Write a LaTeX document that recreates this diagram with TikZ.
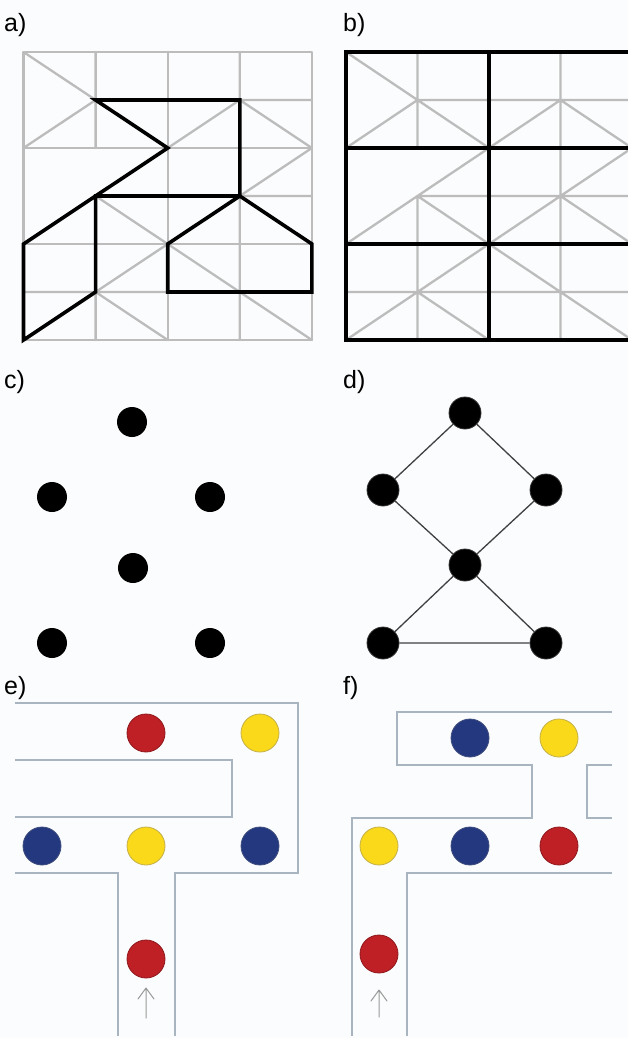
\documentclass[tikz,border=0pt]{standalone}
\usepackage{fontspec}
\setmainfont{Liberation Sans}
\definecolor{bg}{RGB}{251,252,253}
\definecolor{gridgray}{RGB}{188,188,188}
\definecolor{maze}{RGB}{168,180,192}
\definecolor{dred}{RGB}{190,32,38}
\definecolor{dyellow}{RGB}{250,216,26}
\definecolor{dblue}{RGB}{35,56,126}
\tikzset{
  lbl/.style={anchor=base west, inner sep=0pt, font=\fontsize{25}{28}\selectfont},
  gl/.style={draw=gridgray, line width=2.3pt, line cap=round, line join=round},
  bl/.style={draw=black, line width=3.6pt},
  dot/.style={circle, fill=black, inner sep=0pt, minimum size=30pt},
  ddot/.style={circle, fill=black, draw=black!80, line width=0.8pt, inner sep=0pt, minimum size=32pt},
  gedge/.style={draw=black!75, line width=1.3pt},
  wall/.style={draw=maze, line width=1.5pt},
  ball/.style={circle, inner sep=0pt, minimum size=38pt, line width=0.8pt},
  redball/.style={ball, fill=dred, draw=dred!75!black},
  yelball/.style={ball, fill=dyellow, draw=dyellow!55!gray},
  bluball/.style={ball, fill=dblue, draw=dblue!70!gray},
  uparrow/.style={draw=black!40, line width=1pt, line cap=round, line join=round}
}
\newcommand{\graypat}{%
  \draw[gl] (1,0)--(1,2) (1,3)--(1,6) (3,0)--(3,6)
    (1,1)--(4,1) (1,3)--(4,3) (0,5)--(4,5)
    (0,0)--(1,1)--(0,2) (1,1)--(2,2) (2,2)--(3,1)--(4,2)
    (2,2)--(0,4) (1,3)--(2,4) (2,4)--(4,2) (3,3)--(4,4)
    (0,6)--(2,4) (1,5)--(2,6) (2,4)--(4,6);}
\begin{document}
\begin{tikzpicture}[x=1pt, y=-1pt]
\fill[bg] (0,0) rectangle (628,1038);
\useasboundingbox (0,0) rectangle (628,1038);

% labels
\node[lbl] (la) at (4,32) {a)};
\node[lbl] (lb) at (343,32) {b)};
\node[lbl] (lc) at (4,388) {c)};
\node[lbl] (ld) at (343,388) {d)};
\node[lbl] (le) at (4,694) {e)};
\node[lbl] (lf) at (343,694) {f)};

% panel a
\begin{scope}[shift={(23.5,52)}, x=72.1pt, y=-48pt]
  \draw[gl] (0,0) rectangle (4,6) (2,0)--(2,6) (0,2)--(4,2) (0,4)--(4,4);
  \graypat
  \draw[bl] (1,3)--(3,3)--(3,1)--(1,1)--(2,2)--(0,4)--(0,6)--(1,5)--cycle;
  \draw[bl] (3,3)--(2,4)--(2,5)--(4,5)--(4,4)--cycle;
\end{scope}

% panel b
\begin{scope}
  \clip (0,0) rectangle (628,1038);
  \begin{scope}[shift={(346,52)}, x=71.5pt, y=-48pt]
    \graypat
    \draw[bl] (0,0) rectangle (4,6) (2,0)--(2,6) (0,2)--(4,2) (0,4)--(4,4);
  \end{scope}
\end{scope}

% panel c
\node[dot] (c1) at (132,422) {};
\node[dot] (c2) at (52,497) {};
\node[dot] (c3) at (210,497) {};
\node[dot] (c4) at (133,568) {};
\node[dot] (c5) at (52,643) {};
\node[dot] (c6) at (210,643) {};

% panel d
\node[ddot] (d1) at (465,413) {};
\node[ddot] (d2) at (383,490) {};
\node[ddot] (d3) at (546,490) {};
\node[ddot] (d4) at (465,565) {};
\node[ddot] (d5) at (383,643) {};
\node[ddot] (d6) at (546,643) {};
\draw[gedge] (d1)--(d2) (d1)--(d3) (d2)--(d4) (d3)--(d4) (d4)--(d5) (d4)--(d6) (d5)--(d6);

% panel e
\draw[wall] (15,703)--(298,703)--(298,873)--(175,873)--(175,1036);
\draw[wall] (15,760)--(232,760)--(232,817)--(15,817);
\draw[wall] (15,873)--(118,873)--(118,1036);
\node[redball] (e1) at (146,733) {};
\node[yelball] (e2) at (260,733) {};
\node[bluball] (e3) at (42,846) {};
\node[yelball] (e4) at (146,846) {};
\node[bluball] (e5) at (260,846) {};
\node[redball] (e6) at (146,959) {};
\draw[uparrow] (146,1018)--(146,988) (138,999)--(146,988)--(154,999);

% panel f
\draw[wall] (612,712)--(397,712)--(397,765)--(532,765)--(532,818)--(352,818)--(352,1036);
\draw[wall] (612,765)--(587,765)--(587,818)--(612,818);
\draw[wall] (612,873)--(407,873)--(407,1036);
\node[bluball] (f1) at (470,738) {};
\node[yelball] (f2) at (559,738) {};
\node[yelball] (f3) at (379,846) {};
\node[bluball] (f4) at (470,846) {};
\node[redball] (f5) at (559,846) {};
\node[redball] (f6) at (379,954) {};
\draw[uparrow] (379,1017)--(379,990) (371,1001)--(379,990)--(387,1001);
\end{tikzpicture}
\end{document}
